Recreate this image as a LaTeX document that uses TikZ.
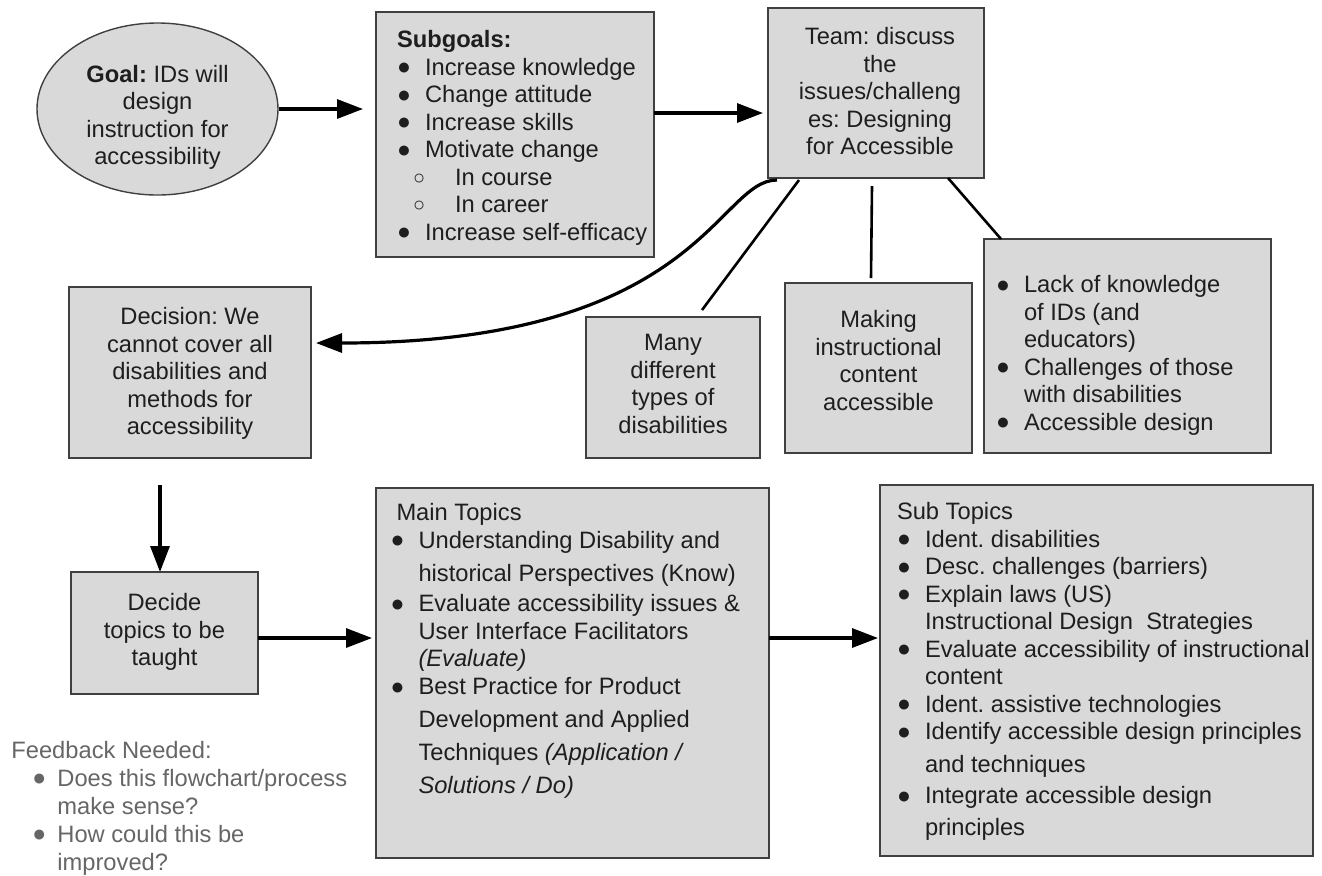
\documentclass[tikz,border=0pt]{standalone}
\usepackage{fontspec}
\setmainfont{Liberation Sans}
\usetikzlibrary{shapes.geometric,arrows.meta}
\definecolor{cellgray}{HTML}{D9D9D9}
\definecolor{ink}{HTML}{1E1E1E}
\definecolor{note}{HTML}{666666}
\frenchspacing
\newcommand{\fs}{\fontsize{11.85}{13.75}\selectfont}
\newcommand{\blt}{\raisebox{0.2pt}{\fontsize{11.5}{11.5}\selectfont ●}}
\newcommand{\cir}{\raisebox{0.3pt}{\fontsize{10}{10}\selectfont ○}}
\newcommand{\itm}[1]{\par\hangindent=14pt\hangafter=1\noindent\makebox[14pt][l]{\blt}#1}
\newcommand{\subitm}[1]{\par\hangindent=29pt\hangafter=1\noindent\hspace*{8pt}\makebox[21pt][l]{\cir}#1}
\newcommand{\fitm}[1]{\par\hangindent=23pt\hangafter=1\noindent\hspace*{10.5pt}\makebox[12.5pt][l]{\blt}#1}
\tikzset{
  cell/.style = {rectangle, draw=black!75, fill=cellgray, line width=0.7pt, inner sep=0pt, outer sep=0pt, text=ink},
  goalcell/.style = {ellipse, draw=black!75, fill=cellgray, line width=0.7pt, inner sep=0pt, text=ink},
  flow/.style = {-{Triangle[length=13pt,width=9.5pt]}, line width=1.6pt},
  link/.style = {line width=1.3pt}
}

\begin{document}
\begin{tikzpicture}[x=0.5pt, y=-0.5pt, every node/.style={font=\fs}]
\useasboundingbox (0,0) rectangle (1322,875);

\node [goalcell, minimum width=120.5pt, minimum height=86pt] (goal) at (157.5,109)
  {\parbox[c][60.8pt][t]{85pt}{\centering
  \rule{0pt}{17pt}\textbf{Goal:} IDs will\\design\\instruction for\\accessibility}};
\node [cell] (subgoals) at (515,134.5) {\parbox[c][122.5pt][t]{139pt}{\leftskip=10.5pt
  \rule{0pt}{17.75pt}\textbf{Subgoals:}
  \itm{Increase knowledge}
  \itm{Change attitude}
  \itm{Increase skills}
  \itm{Motivate change}
  \subitm{In course}
  \subitm{In career}
  \itm{Increase self-efficacy}}};
\node [cell] (team) at (876,93) {\parbox[c][85pt][t]{108pt}{\centering
  \rule{0pt}{18.25pt}\hspace*{4pt}Team: discuss\\\hspace*{4pt}the\\\hspace*{4pt}issues/challeng\\\hspace*{4pt}es: Designing\\\hspace*{4pt}for Accessible}};

\node [cell] (decision) at (190,372.5) {\parbox[c][85.5pt][t]{121pt}{\centering
  \rule{0pt}{18.75pt}Decision: We\\cannot cover all\\disabilities and\\methods for\\accessibility}};
\node [cell] (many) at (673,387.5) {\parbox[c][70.5pt][t]{87pt}{\centering
  \rule{0pt}{16.75pt}Many\\different\\types of\\disabilities}};
\node [cell] (making) at (878.5,368) {\parbox[c][85pt][t]{93.5pt}{\centering
  \rule{0pt}{22.25pt}Making\\instructional\\content\\accessible}};
\node [cell] (lack) at (1127.5,346) {\parbox[c][107pt][t]{143.5pt}{\leftskip=6pt
  \itm{\rule{0pt}{26.75pt}Lack of knowledge\\of IDs (and\\educators)}
  \itm{Challenges of those\\with disabilities}
  \itm{Accessible design}}};

\node [cell] (decide) at (164.5,633) {\parbox[c][61pt][t]{93.5pt}{\centering
  \rule{0pt}{19.25pt}Decide\\topics to be\\taught}};
\node [cell] (main) at (572.5,673) {\parbox[c][185pt][t]{196.5pt}{\leftskip=7.25pt
  \rule{0pt}{16.25pt}\hspace*{3pt}Main Topics
  \itm{\rule{0pt}{11pt}Understanding Disability and\\[2.75pt]historical Perspectives (Know)}
  \itm{\rule{0pt}{12pt}Evaluate accessibility issues \&\\User Interface Facilitators\\\textit{(Evaluate)}}
  \itm{Best Practice for Product\\[2.75pt]Development and Applied\\[2.75pt]Techniques \textit{(Application /}\\[2.75pt]\textit{Solutions / Do)}}}};
\node [cell] (sub) at (1096.5,670.5) {\parbox[c][185.5pt][t]{216.5pt}{\leftskip=8.5pt
  \rule{0pt}{17.25pt}Sub Topics
  \itm{Ident. disabilities}
  \itm{Desc. challenges (barriers)}
  \itm{Explain laws (US)\\Instructional Design\ \ Strategies}
  \itm{Evaluate accessibility of instructional\\content}
  \itm{Ident. assistive technologies}
  \itm{Identify accessible design principles\\[2.75pt]and techniques}
  \itm{\rule{0pt}{12pt}Integrate accessible design\\[2.25pt]principles}}};

\node [anchor=base west, inner sep=0pt, text=note] (feedback) at (11,758)
  {\parbox[t]{190pt}{\fontsize{11.85}{14}\selectfont Feedback Needed:
  \fitm{Does this flowchart/process\\make sense?}
  \fitm{How could this be\\improved?}}};

% flow between the steps
\draw [flow, shorten >=6.5pt] (goal.east) -- (goal.east -| subgoals.west);
\draw [flow, shorten >=2.5pt] ([yshift=10.75pt]subgoals.east) -- ([yshift=10.75pt]subgoals.east -| team.west);
\draw [flow] ([xshift=4.5pt,yshift=-1pt]team.south west)
  .. controls +(-60,0) and +(384,0) .. ([xshift=2.5pt,yshift=14.75pt]decision.east);
\draw [flow, shorten <=13.5pt] ([xshift=-2.25pt]decide.north |- decision.south) -- ([xshift=-2.25pt]decide.north);
\draw [flow, shorten >=2pt] ([yshift=-2.5pt]decide.east) -- ([yshift=-2.5pt]decide.east -| main.west);
\draw [flow, shorten >=1pt] ([yshift=17.5pt]main.east) -- ([yshift=17.5pt]main.east -| sub.west);

% issues hanging off the team box
\draw [link] ([xshift=15.5pt,yshift=-1pt]team.south west) -- ([xshift=14.5pt,yshift=3.5pt]many.north);
\draw [link] ([xshift=-2pt,yshift=-4pt]team.south) -- ([xshift=-3.75pt,yshift=2.5pt]making.north);
\draw [link] ([xshift=-18pt]team.south east) -- ([xshift=8.5pt]lack.north west);

\end{tikzpicture}
\end{document}
